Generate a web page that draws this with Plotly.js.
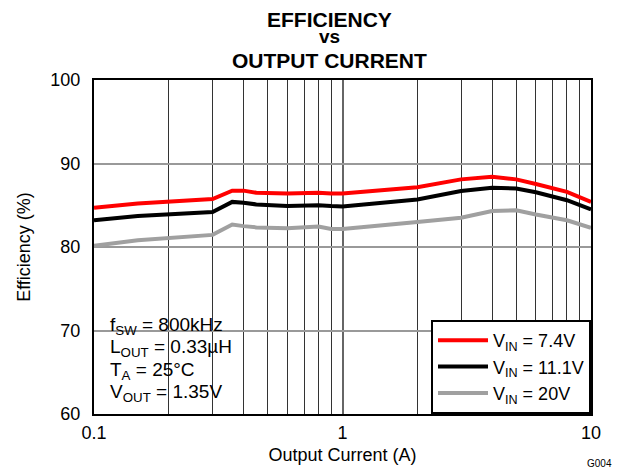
<!DOCTYPE html>
<html>
<head>
<meta charset="utf-8">
<script src="https://cdn.plot.ly/plotly-3.0.1.min.js"></script>
<style>html,body{margin:0;padding:0;background:#fff;}#chart{width:625px;height:471px;}</style>
</head>
<body>
<div id="chart"></div>
<script>
// Data
const current = [0.1, 0.15, 0.3, 0.36, 0.4, 0.45, 0.6, 0.8, 0.9, 1, 2, 3, 4, 5, 6, 8, 10];
const effVin7p4 = [84.7, 85.2, 85.75, 86.75, 86.75, 86.5, 86.4, 86.5, 86.4, 86.4, 87.15, 88.1, 88.4, 88.1, 87.55, 86.6, 85.4];
const effVin11p1 = [83.2, 83.7, 84.2, 85.4, 85.3, 85.1, 84.9, 85.0, 84.9, 84.85, 85.7, 86.7, 87.1, 87.0, 86.55, 85.6, 84.5];
const effVin20 = [80.15, 80.8, 81.45, 82.7, 82.5, 82.35, 82.25, 82.45, 82.15, 82.15, 83.0, 83.5, 84.3, 84.4, 83.9, 83.2, 82.3];
const seriesNames = ["V<sub>IN</sub> = 7.4V", "V<sub>IN</sub> = 11.1V", "V<sub>IN</sub> = 20V"];
const xMajorTicks = [0.1, 1, 10];
const xMajorLabels = ["0.1", "1", "10"];
const xMinorTicks = [0.2, 0.3, 0.4, 0.5, 0.6, 0.7, 0.8, 0.9, 2, 3, 4, 5, 6, 7, 8, 9];
const yTicks = [60, 70, 80, 90, 100];
const titleLines = ["EFFICIENCY", "vs", "OUTPUT CURRENT"];
const conditionLines = ["f<sub>SW</sub> = 800kHz", "L<sub>OUT</sub> = 0.33µH", "T<sub>A</sub> = 25°C", "V<sub>OUT</sub> = 1.35V"];

const FONT = "Liberation Sans, Arial, sans-serif";
const colors = ["#ff0000", "#000000", "#a0a0a0"];
const ys = [effVin7p4, effVin11p1, effVin20];

const traces = ys.map((y, i) => ({
  x: current, y: y, type: "scatter", mode: "lines", name: seriesNames[i],
  line: {color: colors[i], width: 4}
}));

const titleY = [1.182, 1.1305, 1.0575];
const titleSizes = [21, 19, 21];
const condY = [0.2635, 0.1967, 0.1293, 0.0635];

const annotations = [];
titleLines.forEach((t, i) => annotations.push({
  text: "<b>" + t + "</b>", xref: "paper", yref: "paper", x: 0.473, y: titleY[i],
  xanchor: "center", yanchor: "middle", showarrow: false,
  font: {family: FONT, size: titleSizes[i], color: "#000"}
}));
conditionLines.forEach((t, i) => annotations.push({
  text: t, xref: "paper", yref: "paper", x: 0.028, y: condY[i],
  xanchor: "left", yanchor: "middle", showarrow: false, align: "left",
  font: {family: FONT, size: 19, color: "#000"}
}));
annotations.push({
  text: "G004", xref: "paper", yref: "paper", x: 1.046, y: -0.149,
  xanchor: "right", yanchor: "middle", showarrow: false,
  font: {family: FONT, size: 10, color: "#000"}
});

const layout = {
  width: 625, height: 471,
  margin: {l: 94, r: 34, t: 80, b: 57},
  paper_bgcolor: "#fff", plot_bgcolor: "#fff",
  font: {family: FONT, size: 18, color: "#000"},
  showlegend: true,
  legend: {
    x: 1, y: 0, xanchor: "right", yanchor: "bottom",
    bgcolor: "#fff", bordercolor: "#000", borderwidth: 2, itemwidth: 50,
    font: {family: FONT, size: 18, color: "#000"}
  },
  xaxis: {
    type: "log", range: [-1, 1],
    tickmode: "array", tickvals: xMajorTicks, ticktext: xMajorLabels,
    showgrid: true, gridcolor: "#666", gridwidth: 2,
    minor: {tickmode: "array", tickvals: xMinorTicks, showgrid: true, gridcolor: "#333", gridwidth: 1, ticks: ""},
    ticks: "", showline: true, mirror: true, linecolor: "#000", linewidth: 2,
    zeroline: false, ticklabelstandoff: 1,
    title: {text: "Output Current (A)", font: {family: FONT, size: 18}, standoff: 7},
    tickfont: {family: FONT, size: 18}
  },
  yaxis: {
    range: [60, 100], tickmode: "array", tickvals: yTicks,
    showgrid: true, gridcolor: "#999", gridwidth: 2,
    ticks: "", showline: true, mirror: true, linecolor: "#000", linewidth: 2,
    zeroline: false, ticklabelstandoff: 8,
    title: {text: "Efficiency (%)", font: {family: FONT, size: 18}, standoff: 15},
    tickfont: {family: FONT, size: 18}
  },
  shapes: [{
    type: "rect", xref: "paper", yref: "paper", x0: 0, x1: 0.296, y0: 0, y1: 0.335,
    fillcolor: "#fff", line: {width: 0}, layer: "between"
  }],
  annotations: annotations
};

Plotly.newPlot("chart", traces, layout, {displayModeBar: false, staticPlot: true});
</script>
</body>
</html>
